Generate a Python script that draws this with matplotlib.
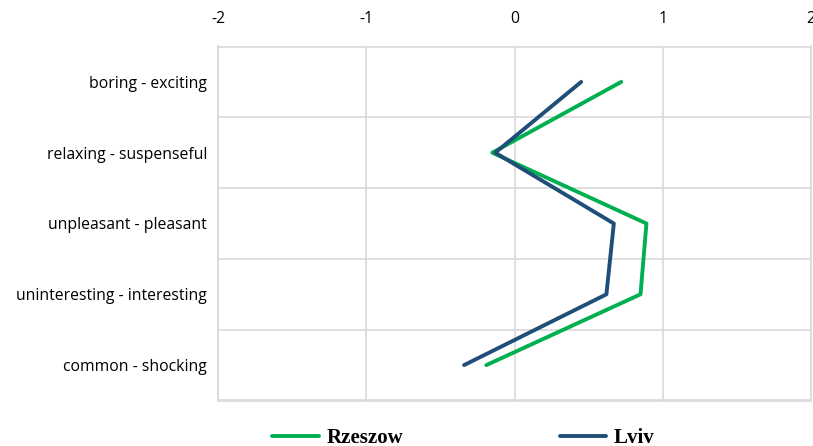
import matplotlib.pyplot as plt
import numpy as np

categories = ['boring - exciting', 'relaxing - suspenseful', 'unpleasant - pleasant',
              'uninteresting - interesting', 'common - shocking']
rzeszow = [0.72, -0.15, 0.89, 0.85, -0.19]
lviv = [0.45, -0.13, 0.67, 0.62, -0.34]
xticks = [-2, -1, 0, 1, 2]

GREEN = '#00B050'
BLUE = '#1F4E79'
GRID = '#D9D9D9'

fig = plt.figure(figsize=(8.13, 4.46), dpi=100)
ax = fig.add_axes([218/813, 1 - 400.5/446, 593/813, 354/446])

y = np.arange(len(categories))
ax.plot(rzeszow, y, color=GREEN, lw=2.8, solid_capstyle='round', label='Rzeszow')
ax.plot(lviv, y, color=BLUE, lw=2.8, solid_capstyle='round', label='Lviv')

ax.set_xlim(-2, 2)
ax.set_ylim(len(categories) - 0.5, -0.5)
ax.set_xticks(xticks)
ax.set_xticklabels([str(t) for t in xticks])
ax.xaxis.tick_top()
ax.set_yticks(y)
ax.set_yticklabels(categories)
ax.set_yticks(np.arange(len(categories) + 1) - 0.5, minor=True)
ax.tick_params(axis='both', which='both', length=0, labelsize=11.3, colors='black')
ax.tick_params(axis='x', pad=14)
ax.tick_params(axis='y', pad=8)
for lab in ax.get_xticklabels() + ax.get_yticklabels():
    lab.set_family('Open Sans')
ax.grid(True, axis='x', which='major', color=GRID, lw=1.2)
ax.grid(True, axis='y', which='minor', color=GRID, lw=1.2)
ax.set_axisbelow(True)
for s in ax.spines.values():
    s.set_color(GRID)
    s.set_linewidth(1.2)

fig.legend(loc='center', bbox_to_anchor=(0.570, 0.018), ncol=2, frameon=False,
           handlelength=2.25, columnspacing=7.5, handletextpad=0.35,
           prop={'family': 'Liberation Serif', 'weight': 'bold', 'size': 15})

fig.savefig('out.png', dpi=100)
